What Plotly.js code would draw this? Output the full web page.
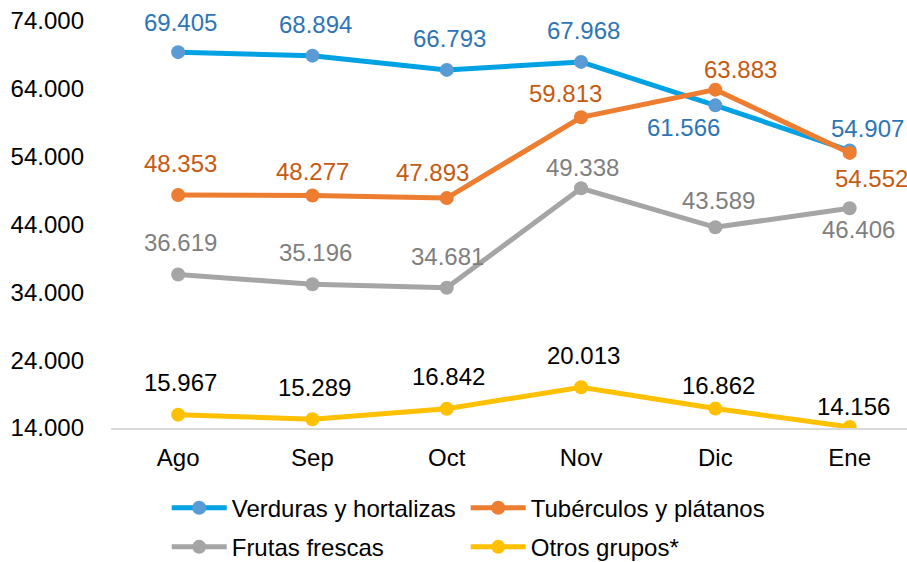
<!DOCTYPE html>
<html>
<head>
<meta charset="utf-8">
<script src="https://cdn.plot.ly/plotly-3.0.1.min.js"></script>
<style>html,body{margin:0;padding:0;background:#fff;}#chart{width:907px;height:562px;}</style>
</head>
<body>
<div id="chart"></div>
<script>
// ---- data ----
const months = ["Ago", "Sep", "Oct", "Nov", "Dic", "Ene"];
const verduras = [69405, 68894, 66793, 67968, 61566, 54907];
const tuberculos = [48353, 48277, 47893, 59813, 63883, 54552];
const frutas = [36619, 35196, 34681, 49338, 43589, 46406];
const otros = [15967, 15289, 16842, 20013, 16862, 14156];
const seriesNames = ["Verduras y hortalizas", "Tubérculos y plátanos", "Frutas frescas", "Otros grupos*"];
const yTickVals = [14000, 24000, 34000, 44000, 54000, 64000, 74000];

// ---- styles ----
const lineColors = ["#00A2E3", "#ED7D31", "#A5A5A5", "#FFC000"];
const markerColors = ["#5B9BD5", "#ED7D31", "#A5A5A5", "#FFC000"];
const labelColors = ["#2E75B6", "#C55A11", "#7F7F7F", "#000000"];
const legendIds = ["legend", "legend", "legend2", "legend2"];
// label offsets in pixels [dx, dy(up)]
const labelOffsets = [
  [[2,30],[3,31],[3,31],[2,31],[-32,-22],[18,22]],
  [[2,31],[0,24],[-14,26],[-16,24],[25,20],[22,-26]],
  [[2,32],[3,32],[1,31],[1,21],[3,27],[9,-21]],
  [[2,32],[2,32],[2,32],[2,32],[3,23],[4,20]]
];

const FONT = "Liberation Sans, Arial, sans-serif";
const FS = 24;
const allSeries = [verduras, tuberculos, frutas, otros];

function fmt(v) {
  return String(v).replace(/\B(?=(\d{3})+(?!\d))/g, ".");
}

const traces = allSeries.map((vals, i) => ({
  type: "scatter",
  mode: "lines+markers",
  name: seriesNames[i],
  legend: legendIds[i],
  x: months,
  y: vals,
  line: { color: lineColors[i], width: 5 },
  marker: { color: markerColors[i], size: 14 },
  hoverinfo: "x+y"
}));

const annotations = [];
allSeries.forEach((vals, i) => {
  vals.forEach((v, j) => {
    annotations.push({
      x: months[j], y: v, xref: "x", yref: "y",
      text: fmt(v), showarrow: false,
      xanchor: "center", yanchor: "middle",
      xshift: labelOffsets[i][j][0], yshift: labelOffsets[i][j][1],
      font: { family: FONT, size: FS, color: labelColors[i] }
    });
  });
});

const legendBase = {
  orientation: "h",
  xanchor: "left", yanchor: "middle",
  entrywidth: 229, entrywidthmode: "pixels",
  itemwidth: 55,
  font: { family: FONT, size: FS, color: "#000000" },
  bgcolor: "rgba(0,0,0,0)"
};

const layout = {
  width: 907, height: 562,
  margin: { l: 111, r: 0, t: 21, b: 134, autoexpand: false },
  paper_bgcolor: "#ffffff",
  plot_bgcolor: "#ffffff",
  separators: ",.",
  font: { family: FONT, size: FS, color: "#000000" },
  showlegend: true,
  legend: Object.assign({}, legendBase, { x: 0.07, y: -0.197 }),
  legend2: Object.assign({}, legendBase, { x: 0.07, y: -0.293 }),
  xaxis: {
    type: "category",
    range: [-0.5, 5.427],
    showgrid: false,
    zeroline: false,
    showline: true,
    linecolor: "#D9D9D9",
    linewidth: 1.5,
    ticks: "",
    ticklabelstandoff: 8,
    tickfont: { family: FONT, size: FS, color: "#000000" },
    fixedrange: true
  },
  yaxis: {
    range: [14000, 74000],
    tickvals: yTickVals,
    tickformat: ",d",
    showgrid: false,
    zeroline: false,
    showline: false,
    ticks: "",
    ticklabelstandoff: 26,
    tickfont: { family: FONT, size: FS, color: "#000000" },
    fixedrange: true
  },
  annotations: annotations
};

Plotly.newPlot("chart", traces, layout, { displayModeBar: false, staticPlot: true });
</script>
</body>
</html>
